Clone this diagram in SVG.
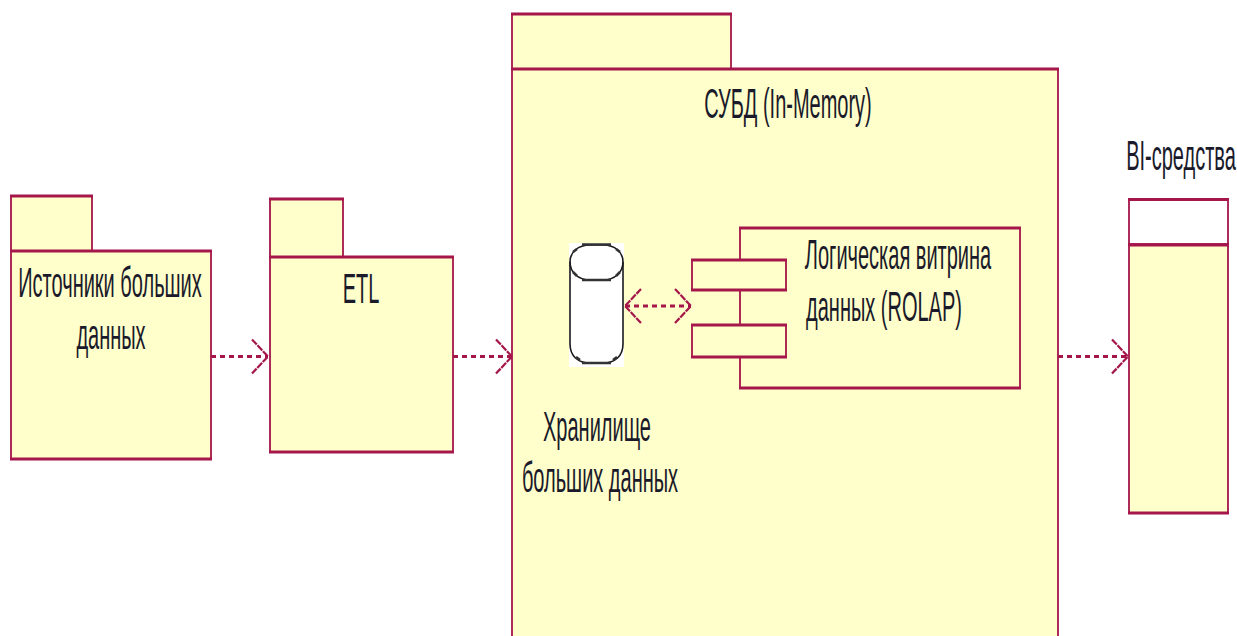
<svg xmlns="http://www.w3.org/2000/svg" width="1237" height="636" viewBox="0 0 1237 636">
<defs>
<marker id="arr" markerUnits="userSpaceOnUse" markerWidth="20" markerHeight="38" refX="18" refY="19" orient="auto"><path d="M2 2 L18 19 L2 36" fill="none" stroke="#a5164a" stroke-width="2.2" stroke-dasharray="7 1"/></marker>
<marker id="arrs" markerUnits="userSpaceOnUse" markerWidth="20" markerHeight="38" refX="18" refY="19" orient="auto-start-reverse"><path d="M2 2 L18 19 L2 36" fill="none" stroke="#a5164a" stroke-width="2.2" stroke-dasharray="7 1"/></marker>
</defs>
<style>
.b{fill:#ffffcc;stroke:#a5164a;stroke-width:1.8}
.w{fill:#fff;stroke:#a5164a;stroke-width:1.8}
.h{fill:none;stroke:#a5164a;stroke-width:3}
.c{fill:none;stroke:#a5164a;stroke-width:3;stroke-dasharray:5 4}
.k{fill:none;stroke:#1a1a1a;stroke-width:1.6}
.t{fill:none;stroke:#333;stroke-width:2.6}
text{font-family:"Liberation Sans",Arial,sans-serif;font-size:25px;fill:#1a1a2a;text-anchor:middle}
</style>
<rect width="1237" height="636" fill="#fff"/>
<g id="sources"><rect class="b" x="11" y="196" width="81" height="55"/><rect class="b" x="11" y="251" width="200" height="208"/><path class="h" d="M10 196H93M10 251H212M10 459H212"/><text transform="translate(110 297) scale(.8 1.7)">Источники больших</text><text transform="translate(111 349) scale(.8 1.7)">данных</text></g>
<g id="etl"><rect class="b" x="270" y="199" width="73" height="58"/><rect class="b" x="270" y="257" width="183" height="195"/><path class="h" d="M269 199H344M269 257H454M269 452H454"/><text transform="translate(361 303) scale(.8 1.7)">ETL</text></g>
<g id="dbms"><rect class="b" x="512" y="14" width="219" height="55"/><path class="b" d="M512 637V69H1058V637"/><path class="h" d="M511 14H732M511 69H1059"/><text transform="translate(788 118) scale(.8 1.7)">СУБД (In-Memory)</text></g>
<g id="storage"><rect x="569" y="243" width="55" height="124" fill="#fff"/><path class="k" d="M570 262C570 252 578 245 590 245H603C615 245 623 252 623 262V344C623 356 615 363 603 363H590C578 363 570 356 570 344Z" fill="#fff"/><path class="k" d="M570 262C570 272 578 280 590 280H603C615 280 623 272 623 262"/><path class="t" d="M582 244.500H611M582 280H611M582 363H611M573 252L577 249M616 249L620 252M573 272L577 276M616 276L620 272M576 357L580 360M613 360L617 357"/><text transform="translate(597 441) scale(.8 1.7)">Хранилище</text><text transform="translate(600 492) scale(.8 1.7)">больших данных</text></g>
<g id="mart"><rect class="b" x="740" y="228" width="280" height="160"/><rect class="b" x="692" y="260" width="94" height="30"/><rect class="b" x="692" y="325" width="94" height="32"/><path class="h" d="M739 228H1021M739 388H1021M691 260H787M691 290H787M691 325H787M691 357H787"/><text transform="translate(898 269) scale(.8 1.7)">Логическая витрина</text><text transform="translate(884 321) scale(.8 1.7)">данных (ROLAP)</text></g>
<g id="bi"><rect class="b" x="1129" y="244" width="99" height="269"/><rect class="w" x="1129" y="199" width="99" height="45"/><path class="h" d="M1128 199.500H1229M1128 245H1229M1128 513H1229"/><text transform="translate(1181 170) scale(.8 1.7)">BI-средства</text></g>
<g id="connectors">
<path class="c" d="M211 356.500H268" marker-end="url(#arr)"/>
<path class="c" d="M453 356.500H512" marker-end="url(#arr)"/>
<path class="c" d="M625 306H691" marker-start="url(#arrs)" marker-end="url(#arrs)"/>
<path class="c" d="M1058 356.500H1128" marker-end="url(#arr)"/>
</g>
</svg>
